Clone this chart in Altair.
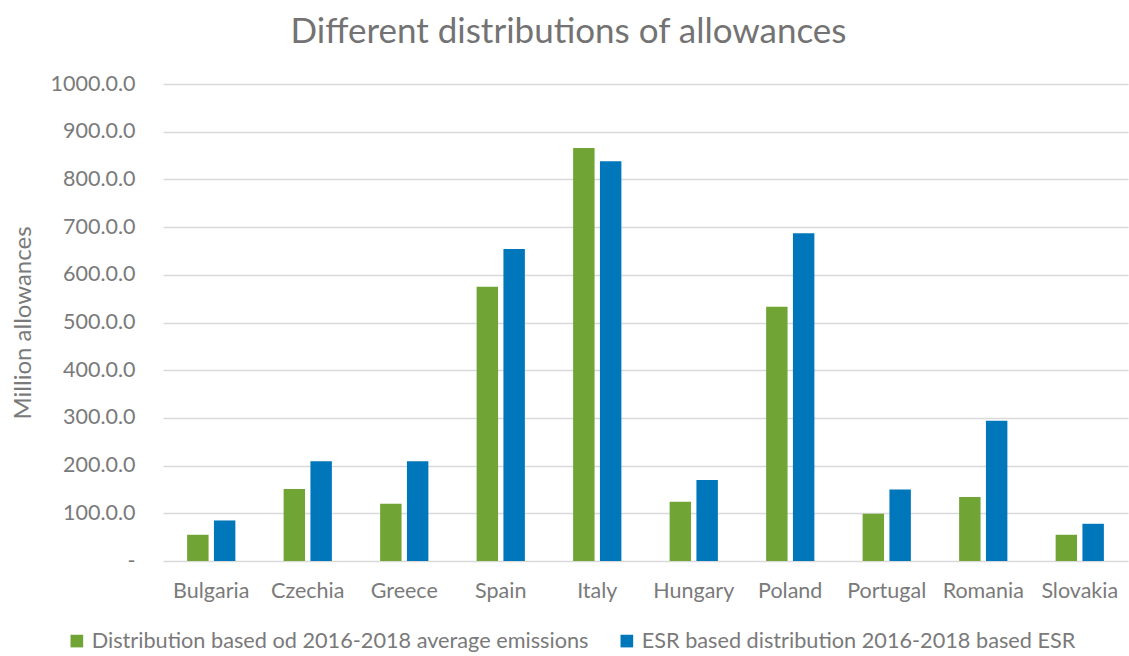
import altair as alt
import pandas as pd

countries = ["Bulgaria", "Czechia", "Greece", "Spain", "Italy",
             "Hungary", "Poland", "Portugal", "Romania", "Slovakia"]
series_names = ["Distribution based od 2016-2018 average emissions",
                "ESR based distribution 2016-2018 based ESR"]
avg_emissions = [55, 151, 120, 575, 866, 124, 533, 99, 134, 55]
esr_based = [85, 209, 209, 654, 838, 170, 687, 150, 294, 78]
colors = ["#70A536", "#0077BB"]

rows = []
for c, a, e in zip(countries, avg_emissions, esr_based):
    rows.append({"country": c, "series": series_names[0], "value": a})
    rows.append({"country": c, "series": series_names[1], "value": e})
df = pd.DataFrame(rows)

FONT = "Lato"
LABEL = "#7a7a7a"

chart = alt.Chart(df).mark_bar().encode(
    x=alt.X("country:N", sort=countries,
            scale=alt.Scale(paddingInner=0.5, paddingOuter=0.25),
            axis=alt.Axis(title=None, labelAngle=0, labelFontSize=21.5,
                          labelColor=LABEL, labelFont=FONT, labelPadding=19,
                          ticks=False, domain=False)),
    xOffset=alt.XOffset("series:N", sort=series_names,
                        scale=alt.Scale(paddingInner=0.2)),
    y=alt.Y("value:Q", scale=alt.Scale(domain=[0, 1000]),
            axis=alt.Axis(title="Million allowances", values=list(range(0, 1001, 100)),
                          labelExpr="datum.value == 0 ? '-' : format(datum.value, '.1f') + '.0'",
                          labelFontSize=21.5, labelColor=LABEL, labelFont=FONT,
                          labelPadding=28, ticks=False, domain=False,
                          titleFontSize=24, titleColor=LABEL, titleFont=FONT,
                          titleFontWeight="normal", titlePadding=15,
                          gridColor="#d9d9d9", gridWidth=1.5)),
    color=alt.Color("series:N", sort=series_names,
                    scale=alt.Scale(domain=series_names, range=colors),
                    legend=alt.Legend(title=None, orient="none", direction="horizontal",
                                      legendX=-97, legendY=546,
                                      symbolType="square", symbolSize=160,
                                      symbolStrokeWidth=0,
                                      labelFontSize=21.7, labelColor=LABEL,
                                      labelFont=FONT, labelOffset=4,
                                      columnPadding=27, labelLimit=0)),
).properties(
    width=965, height=477,
    padding={"left": 163, "top": 84, "right": 1, "bottom": 95},
    autosize=alt.AutoSizeParams(type="none"),
    title=alt.TitleParams("Different distributions of allowances", fontSize=35,
                          font=FONT, color="#737373", fontWeight="normal",
                          anchor="middle", dx=-77, offset=23),
).configure_view(stroke=None)

chart.save("out.html", embed_options={"renderer": "svg", "actions": False})
